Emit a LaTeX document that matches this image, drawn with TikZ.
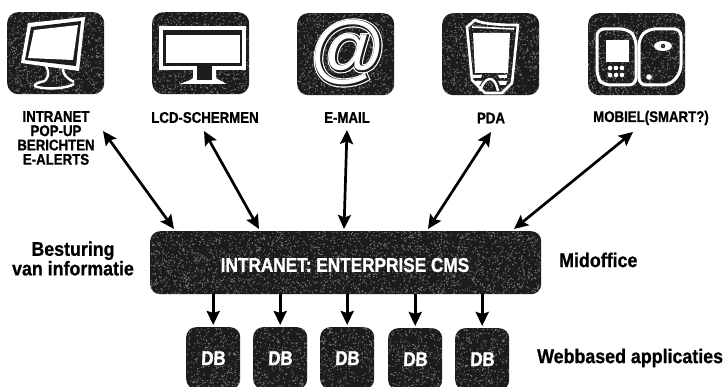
\documentclass[tikz,border=0pt]{standalone}
\usepackage{fontspec}
\setmainfont{Liberation Sans}[FakeStretch=0.86,FakeBold=1.6,BoldFont={Liberation Sans Bold},BoldFeatures={FakeStretch=0.86,FakeBold=1.0}]
\newfontfamily\sidefont{Liberation Sans Bold}[FakeStretch=0.9,FakeBold=0.8]
\newfontfamily\atA{Liberation Sans}[FakeSlant=0.06,FakeBold=6]
\newfontfamily\atB{Liberation Sans}[FakeSlant=0.06,FakeBold=3]
\newfontfamily\atC{Liberation Sans}[FakeSlant=0.06]
\newfontfamily\dbfont{Liberation Sans Bold}[FakeStretch=0.84,FakeSlant=0.05,FakeBold=1.6]
\usetikzlibrary{arrows.meta}
\definecolor{ink}{HTML}{1C1C1C}
\definecolor{speck}{HTML}{747474}
\tikzset{
 x=1pt,y=-1pt,
 panel/.style={fill=ink,rounded corners=#1,inner sep=0pt},
 tile/.style={panel=11pt,minimum width=97pt,minimum height=82pt},
 dbtile/.style={panel=10pt,minimum width=54pt,minimum height=62pt},
 lbl/.style={font=\bfseries\fontsize{15.4}{14.3}\selectfont,align=center,inner sep=0pt,text=black},
 side/.style={font=\sidefont\fontsize{19.8}{17}\selectfont,align=center,inner sep=0pt,text=black},
 inner/.style={font=\bfseries\fontsize{20}{20}\selectfont,text=white,inner sep=0pt},
 dup/.style={{Stealth[length=14pt,width=13pt,inset=2.5pt]}-{Stealth[length=14pt,width=13pt,inset=2.5pt]},line width=2.7pt,black},
 down/.style={-{Stealth[length=14pt,width=13pt,inset=2pt]},line width=2.8pt,black},
 wl/.style={draw=white,line width=3pt,line join=round},
 wt/.style={draw=white,line width=2.4pt,line join=round},
 wf/.style={fill=white},
 df/.style={fill=ink}
}
% speckle inside a rounded tile: x y w h radius count
\newcommand{\speckle}[6]{%
 \begin{scope}
 \clip[rounded corners=#5pt] (#1,#2) rectangle ++(#3,#4);
 \fill[speck] foreach \i in {1,...,#6} {({#1+rnd*#3},{#2+rnd*#4}) rectangle ++(1,1)};
 \end{scope}}
\begin{document}
\begin{tikzpicture}
\pgfmathsetseed{4242}
\useasboundingbox (0,0) rectangle (725,387);

% icon tiles
\node[tile,anchor=north west] (t1) at (7,12) {};
\node[tile,anchor=north west] (t2) at (152,12) {};
\node[tile,anchor=north west] (t3) at (297,13) {};
\node[tile,anchor=north west] (t4) at (442,13) {};
\node[tile,anchor=north west] (t5) at (588,13) {};
\speckle{7}{12}{97}{82}{11}{900}
\speckle{152}{12}{97}{82}{11}{900}
\speckle{297}{13}{97}{82}{11}{900}
\speckle{442}{13}{97}{82}{11}{900}
\speckle{588}{13}{97}{82}{11}{900}

% icon 1: tilted monitor
\fill[wf] (28,23) -- (85,17) -- (79,71) -- (21,63) -- cycle;
\fill[df] (31,27) -- (81,21) -- (76,66) -- (25,60) -- cycle;
\fill[wf] (34,30) -- (78,25) -- (73,60) -- (28,58) -- cycle;
\draw[wt] (46,66) .. controls (49,72) and (49,76) .. (45,81);
\draw[wt] (63,69) .. controls (63,74) and (66,78) .. (74,82);
\draw[wt] (45,81) .. controls (35,83) and (32,86) .. (37,87) .. controls (50,90) and (68,88) .. (74,84);

% icon 2: wide screen
\fill[wf] (159,26) rectangle (246,70);
\fill[df] (163,30) rectangle (242,66);
\fill[wf] (166,35) rectangle (240,63);
\fill[wf] (180,84) .. controls (186,81) and (190,81) .. (193,78) -- (193,70) -- (197,70) -- (197,80) -- (212,80) -- (212,70) -- (216,70) -- (216,78) .. controls (220,81) and (223,81) .. (226,84) -- cycle;
\fill[df] (197,66) rectangle (212,80);

% icon 3: at sign
\node[inner sep=0pt,text=white] (at1) at (347,53) {\fontsize{75}{75}\selectfont\atA @};
\node[inner sep=0pt,text=ink] (at2) at (347,53) {\fontsize{75}{75}\selectfont\atB @};
\node[inner sep=0pt,text=white] (at3) at (347,53) {\fontsize{75}{75}\selectfont\atC @};

% icon 4: PDA
\draw[wl,line width=2.6pt] (475,20) .. controls (482,24) and (500,25) .. (518,25) -- (512,83) -- (502,93) -- (485,93) -- (472,80) -- (467,27) -- cycle;
\draw[white,line width=1.6pt] (472,27) -- (514,29);
\fill[wf] (473,33) -- (510,33) -- (508,73) -- (475,73) -- cycle;
\draw[wt] (480,91) .. controls (484,78) and (494,72) .. (498,91);
\fill[wf] (472,75) -- (482,75) -- (481,78) -- (473,78) -- cycle;
\fill[wf] (475,81) -- (482,81) -- (480,85) -- (477,85) -- cycle;
\fill[wf] (498,75) -- (507,75) -- (507,78) -- (499,78) -- cycle;
\fill[wf] (498,81) -- (507,81) -- (506,85) -- (500,85) -- cycle;

% icon 5: phone pair
\draw[wl,rounded corners=7pt] (597,29) -- (628,29) -- (636,38) -- (636,85) -- (603,85) -- (597,77) -- cycle;
\draw[wl,rounded corners=7pt] (639,38) -- (648,29) -- (681,29) -- (681,72) -- (670,85) -- (639,85) -- cycle;
\fill[wf] (606,40) rectangle (629,62);
\foreach \cx in {610,616,622}{\foreach \cy in {68,75}{\fill[wf] (\cx,\cy) circle[radius=2.3pt];}}
\fill[wf] (663,46) ellipse[x radius=9pt,y radius=5pt];
\fill[df] (663,46) circle[radius=2.2pt];
\fill[wf] (663,46) circle[radius=.7pt];
\fill[wf] (649,77) circle[radius=2.8pt];

% labels under icons
\node[lbl] (l1) at (56,138) {INTRANET\\POP-UP\\BERICHTEN\\E-ALERTS};
\node[lbl] (l2) at (205,117.5) {LCD-SCHERMEN};
\node[lbl] (l3) at (347,117.5) {E-MAIL};
\node[lbl] (l4) at (491,118) {PDA};
\node[lbl] (l5) at (651,118) {MOBIEL(SMART?)};

% middle panel
\node[panel=10pt,anchor=north west,minimum width=391pt,minimum height=63pt] (cms) at (150,231) {};
\speckle{150}{231}{391}{63}{10}{2800}
\node[inner] (cmst) at (345,265) {INTRANET: ENTERPRISE CMS};

% side labels
\node[side] (s1) at (73,258.5) {Besturing\\van informatie};
\node[side,anchor=west] (s2) at (559,260) {Midoffice};
\node[side,anchor=west] (s3) at (537,358) {Webbased applicaties};

% db tiles
\node[dbtile,anchor=north west] (d1) at (186,327) {};
\node[dbtile,anchor=north west] (d2) at (253,327) {};
\node[dbtile,anchor=north west] (d3) at (320,327) {};
\node[dbtile,anchor=north west] (d4) at (388,328) {};
\node[dbtile,anchor=north west] (d5) at (455,328) {};
\speckle{186}{327}{54}{62}{10}{340}
\speckle{253}{327}{54}{62}{10}{340}
\speckle{320}{327}{54}{62}{10}{340}
\speckle{388}{328}{54}{62}{10}{340}
\speckle{455}{328}{54}{62}{10}{340}
\foreach \n in {1,...,5}{\node[inner,font=\dbfont\fontsize{20}{20}\selectfont] (dt\n) at (d\n.center) {DB};}

% arrows
\coordinate (a1) at (103,131); \coordinate (b1) at (174,229);
\coordinate (a2) at (204,131); \coordinate (b2) at (259,229);
\coordinate (a3) at (347,130); \coordinate (b3) at (344,229);
\coordinate (a4) at (491,132); \coordinate (b4) at (428,229);
\coordinate (a5) at (633,132); \coordinate (b5) at (514,229);
\foreach \n in {1,...,5}{\draw[dup] (a\n) -- (b\n);}
\draw[down,shorten >=2pt] (cms.south -| d1.north) -- (d1.north);
\draw[down,shorten >=2pt] (cms.south -| d2.north) -- (d2.north);
\draw[down,shorten >=2pt] (cms.south -| d3.north) -- (d3.north);
\draw[down,shorten >=2pt] (cms.south -| d4.north) -- (d4.north);
\draw[down,shorten >=2pt] (cms.south -| d5.north) -- (d5.north);
\end{tikzpicture}
\end{document}
